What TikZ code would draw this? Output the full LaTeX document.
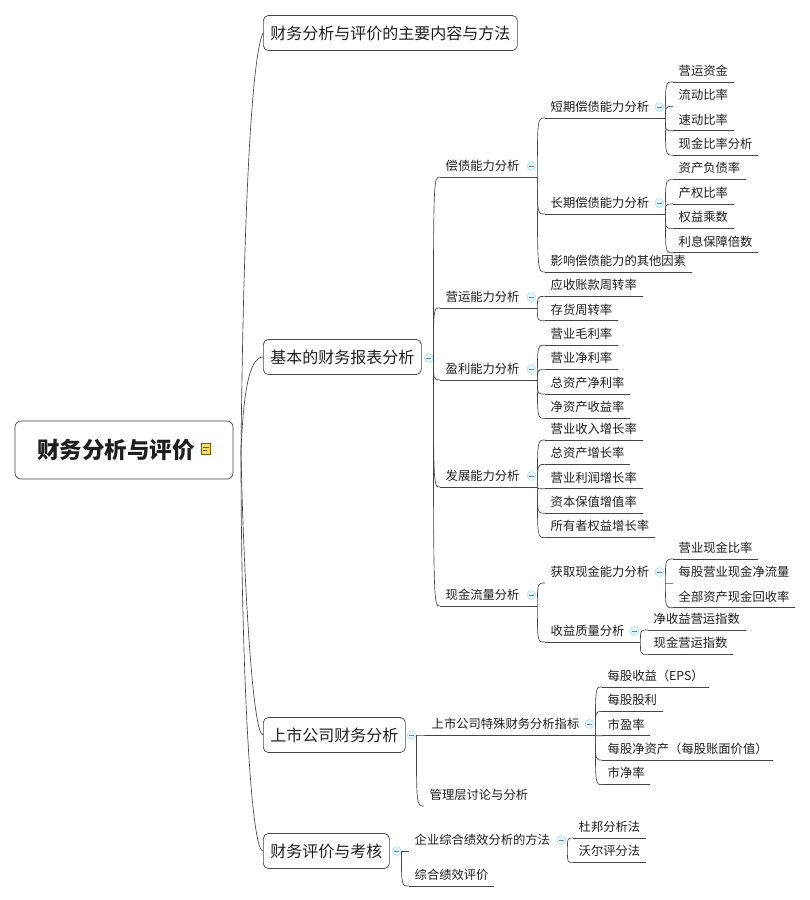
\documentclass[tikz,border=0pt]{standalone}
\usepackage{fontspec}
\setmainfont{Noto Sans CJK SC}
\usepackage{xcolor}
\usetikzlibrary{calc,positioning}
\definecolor{inkline}{HTML}{444444}
\definecolor{inktext}{HTML}{1E1E1E}
\definecolor{memofill}{HTML}{F3DC6B}
\definecolor{memoline}{HTML}{7A5A10}

\begin{document}
\begin{tikzpicture}[
  x=1pt, y=-1pt,
  leaf/.style={anchor=south west, inner xsep=5.5pt, inner ysep=5pt, text height=10.4pt, text depth=1.6pt, text=inktext, font=\fontsize{12.3}{14}\selectfont},
  parent/.style={leaf, text width=#1, align=left},
  next/.style={below=2pt of #1.south west, anchor=north west},
  topbox/.style={draw=inkline, line width=0.7pt, fill=white, rounded corners=5pt, anchor=west, inner xsep=7pt, minimum height=35pt, text=inktext, font=\fontsize{16}{18}\selectfont},
  fold/.style={circle, draw=cyan!35, fill=cyan!12, minimum size=9pt, inner sep=0pt, line width=0.5pt,
    path picture={\draw[gray, line width=0.5pt] ([xshift=-2.5pt]path picture bounding box.center) -- ([xshift=2.5pt]path picture bounding box.center);}},
  link/.style={draw=inkline, line width=0.65pt},
]
\useasboundingbox (0,0) rectangle (809,900);

\node[draw=inkline, line width=0.7pt, fill=white, rounded corners=6pt, minimum width=218pt, minimum height=58pt, inner sep=0pt, text=inktext, font=\fontsize{22.5}{26}\selectfont\bfseries] (root) at (124,450) {财务分析与评价\hspace*{16pt}\mbox{}};
\node[draw=memoline, fill=memofill, minimum width=9pt, minimum height=11pt, inner sep=0pt, line width=0.7pt,
  path picture={\draw[memoline, line width=0.5pt] ([xshift=-3pt,yshift=2pt]path picture bounding box.center) -- ([xshift=3pt,yshift=2pt]path picture bounding box.center) ([xshift=-3pt,yshift=-1pt]path picture bounding box.center) -- ([xshift=1pt,yshift=-1pt]path picture bounding box.center);}] (memo) at (206,449) {};
\coordinate (hub) at (241,452);

\node[topbox] (content) at (263,33) {财务分析与评价的主要内容与方法};
\node[topbox] (basic) at (263,357) {基本的财务报表分析};
\node[topbox] (listed) at (263,735) {上市公司财务分析};
\node[topbox] (appraise) at (263,851) {财务评价与考核};

\node[parent=86pt] (sol) at (440,177) {偿债能力分析};
\node[parent=86pt] (opr) at (440,308) {营运能力分析};
\node[parent=86pt] (pro) at (440,380) {盈利能力分析};
\node[parent=86pt] (grow) at (440,487) {发展能力分析};
\node[parent=86pt] (cash) at (440,606) {现金流量分析};

\node[parent=109pt] (short) at (545,118) {短期偿债能力分析};
\node[parent=109pt] (long) at (545,214) {长期偿债能力分析};
\node[leaf] (other) at (545,272) {影响偿债能力的其他因素};
\node[leaf, next=other] (receivable) {应收账款周转率};
\node[leaf, next=receivable] (inventory) {存货周转率};
\node[leaf, next=inventory] (grossm) {营业毛利率};
\node[leaf, next=grossm] (netm) {营业净利率};
\node[leaf, next=netm] (roa) {总资产净利率};
\node[leaf, next=roa] (roe) {净资产收益率};
\node[leaf] (revgrow) at (545,440) {营业收入增长率};
\node[leaf, next=revgrow] (assetgrow) {总资产增长率};
\node[leaf, next=assetgrow] (profitgrow) {营业利润增长率};
\node[leaf, next=profitgrow] (capital) {资本保值增值率};
\node[leaf, next=capital] (owner) {所有者权益增长率};
\node[parent=109pt] (cashget) at (545,583) {获取现金能力分析};
\node[parent=84pt] (quality) at (545,642) {收益质量分析};

\node[leaf] (working) at (673,82) {营运资金};
\node[leaf, next=working] (current) {流动比率};
\node[leaf, next=current] (quick) {速动比率};
\node[leaf, next=quick] (cashratio) {现金比率分析};
\node[leaf, next=cashratio] (debt) {资产负债率};
\node[leaf, next=debt] (equity) {产权比率};
\node[leaf, next=equity] (multiplier) {权益乘数};
\node[leaf, next=multiplier] (interest) {利息保障倍数};

\node[leaf] (opcash) at (673,559) {营业现金比率};
\node[leaf, next=opcash] (sharecash) {每股营业现金净流量};
\node[leaf, next=sharecash] (allcash) {全部资产现金回收率};
\node[leaf] (netindex) at (648,630) {净收益营运指数};
\node[leaf, next=netindex] (cashindex) {现金营运指数};

\node[parent=158pt] (special) at (426,735) {上市公司特殊财务分析指标};
\node[leaf] (mda) at (424,806) {管理层讨论与分析};
\node[leaf] (eps) at (602,687) {每股收益（EPS）};
\node[leaf, next=eps] (dividend) {每股股利};
\node[leaf, next=dividend] (pe) {市盈率};
\node[leaf, next=pe] (bookvalue) {每股净资产（每股账面价值）};
\node[leaf, next=bookvalue] (pb) {市净率};

\node[parent=147pt] (method) at (409,851) {企业综合绩效分析的方法};
\node[leaf] (perf) at (409,886) {综合绩效评价};
\node[leaf] (dupont) at (573,838) {杜邦分析法};
\node[leaf, next=dupont] (wall) {沃尔评分法};

\foreach \p in {sol,opr,pro,grow,cash,short,long,cashget,quality,special,method}
  \node[fold] (\p f) at ($(\p.south east)+(-6,-11)$) {};
\node[fold] (basicf) at ($(basic.east)+(7,1)$) {};
\node[fold] (listedf) at ($(listed.east)+(6,0)$) {};
\node[fold] (appraisef) at ($(appraise.east)+(7,0)$) {};

\foreach \c in {sol,opr,pro,grow,cash,short,long,other,receivable,inventory,grossm,netm,roa,roe,revgrow,assetgrow,profitgrow,capital,owner,quality,working,quick,cashratio,debt,equity,multiplier,interest,opcash,allcash,netindex,cashindex,special,eps,dividend,pe,bookvalue,pb,perf,dupont,wall}
  \draw[link] (\c.south west) -- (\c.south east);

\foreach \p/\c in {basicf.east/sol,basicf.east/opr,basicf.east/pro,basicf.east/grow,basicf.east/cash,
  sol.south east/short,sol.south east/long,sol.south east/other,
  opr.south east/receivable,opr.south east/inventory,
  pro.south east/grossm,pro.south east/netm,pro.south east/roa,pro.south east/roe,
  grow.south east/revgrow,grow.south east/assetgrow,grow.south east/profitgrow,grow.south east/capital,grow.south east/owner,
  cash.south east/cashget,cash.south east/quality,
  short.south east/working,short.south east/current,short.south east/quick,short.south east/cashratio,
  long.south east/debt,long.south east/equity,long.south east/multiplier,long.south east/interest,
  cashget.south east/opcash,cashget.south east/sharecash,cashget.south east/allcash,
  quality.south east/netindex,quality.south east/cashindex,
  listedf.east/special,listedf.east/mda,
  special.south east/eps,special.south east/dividend,special.south east/pe,special.south east/bookvalue,special.south east/pb,
  appraisef.east/method,appraisef.east/perf,
  method.south east/dupont,method.south east/wall}
  \draw[link] (\p) .. controls (\p |- \c.south west) .. (\c.south west);

\draw[link] (hub) .. controls (243,250) and (250,60) .. (content.west);
\draw[link] (hub) .. controls (243,400) and (248,357) .. (basic.west);
\draw[link] (hub) .. controls (243,560) and (252,735) .. (listed.west);
\draw[link] (hub) .. controls (241,650) and (250,851) .. (appraise.west);
\end{tikzpicture}
\end{document}
